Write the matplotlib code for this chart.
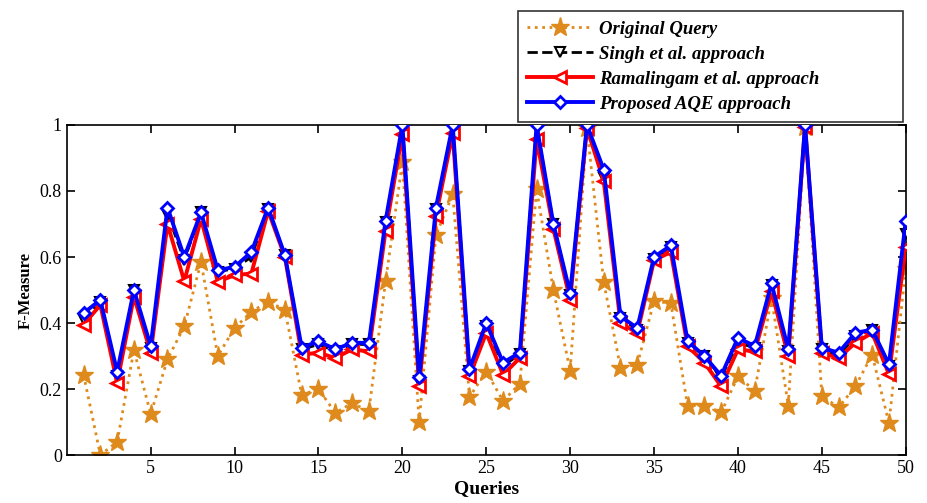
import matplotlib
matplotlib.use("Agg")
import matplotlib.pyplot as plt
import numpy as np

queries = list(range(1, 51))

original_query = [0.243, 0.0, 0.04, 0.318, 0.124, 0.29, 0.39, 0.585, 0.30, 0.385,
                  0.434, 0.465, 0.44, 0.182, 0.20, 0.128, 0.157, 0.133, 0.527, 0.887,
                  0.10, 0.666, 0.79, 0.176, 0.253, 0.164, 0.216, 0.805, 0.50, 0.255,
                  0.99, 0.524, 0.265, 0.274, 0.466, 0.46, 0.149, 0.15, 0.129, 0.238,
                  0.195, 0.475, 0.15, 0.995, 0.179, 0.144, 0.208, 0.304, 0.097, 0.565]

singh = [0.41, 0.465, 0.24, 0.50, 0.325, 0.73, 0.59, 0.735, 0.555, 0.565,
         0.60, 0.745, 0.605, 0.32, 0.335, 0.315, 0.335, 0.335, 0.705, 1.0,
         0.225, 0.745, 1.0, 0.255, 0.39, 0.27, 0.305, 1.0, 0.70, 0.485,
         1.0, 0.84, 0.415, 0.38, 0.595, 0.63, 0.34, 0.30, 0.235, 0.34,
         0.325, 0.515, 0.315, 1.0, 0.32, 0.30, 0.36, 0.38, 0.27, 0.67]

ramalingam = [0.395, 0.455, 0.218, 0.48, 0.31, 0.70, 0.527, 0.715, 0.525, 0.545,
              0.55, 0.74, 0.60, 0.304, 0.31, 0.294, 0.32, 0.314, 0.68, 0.973,
              0.208, 0.725, 0.975, 0.238, 0.37, 0.243, 0.294, 0.957, 0.685, 0.47,
              0.99, 0.83, 0.40, 0.37, 0.59, 0.615, 0.33, 0.28, 0.208, 0.32,
              0.314, 0.496, 0.30, 0.995, 0.31, 0.294, 0.34, 0.37, 0.245, 0.63]

proposed = [0.43, 0.47, 0.252, 0.50, 0.33, 0.75, 0.60, 0.735, 0.56, 0.57,
            0.615, 0.75, 0.605, 0.325, 0.345, 0.32, 0.34, 0.34, 0.71, 1.0,
            0.235, 0.75, 1.0, 0.26, 0.40, 0.28, 0.31, 1.0, 0.70, 0.49,
            1.0, 0.865, 0.42, 0.385, 0.60, 0.635, 0.345, 0.30, 0.24, 0.355,
            0.33, 0.52, 0.32, 1.0, 0.325, 0.31, 0.37, 0.38, 0.275, 0.71]

xticks = [5, 10, 15, 20, 25, 30, 35, 40, 45, 50]
yticks = [0, 0.2, 0.4, 0.6, 0.8, 1]
ytick_labels = ["0", "0.2", "0.4", "0.6", "0.8", "1"]

plt.rcParams['font.family'] = ['Liberation Serif', 'DejaVu Serif']

fig = plt.figure(figsize=(9.28, 5.03), dpi=100)
ax = fig.add_axes([0.072, 0.0954, 0.904, 0.6561])

orange = '#DE8A1C'
ax.plot(queries, original_query, linestyle=':', color=orange, linewidth=2.0,
        marker='*', markersize=14, markerfacecolor=orange, markeredgecolor=orange,
        label='Original Query', zorder=2)
ax.plot(queries, singh, linestyle='--', color='black', linewidth=2.0,
        marker='v', markersize=7, markerfacecolor='white', markeredgecolor='black',
        markeredgewidth=1.5, label='Singh et al. approach', zorder=3)
ax.plot(queries, ramalingam, linestyle='-', color='#FF0000', linewidth=2.8,
        marker='<', markersize=9, markerfacecolor='white', markeredgecolor='#FF0000',
        markeredgewidth=2.0, label='Ramalingam et al. approach', zorder=4)
ax.plot(queries, proposed, linestyle='-', color='#0000FF', linewidth=2.8,
        marker='D', markersize=6.5, markerfacecolor='white', markeredgecolor='#0000FF',
        markeredgewidth=2.0, label='Proposed AQE approach', zorder=5)

ax.set_xlim(0, 50)
ax.set_ylim(0, 1)
ax.set_xticks(xticks)
ax.set_yticks(yticks)
ax.set_yticklabels(ytick_labels)
ax.tick_params(direction='in', top=True, right=True, labelsize=13, length=6, width=1.2)
for s in ax.spines.values():
    s.set_linewidth(1.2)

ax.set_xlabel('Queries', fontsize=14, fontweight='bold', labelpad=2)
ax.set_ylabel('F-Measure', fontsize=12, fontweight='bold', labelpad=4)

leg = fig.legend(loc='upper left', bbox_to_anchor=(0.558, 0.771, 0.415, 0.207),
                 mode='expand', ncol=1,
                 prop={'family': 'Liberation Serif', 'style': 'italic', 'weight': 'bold', 'size': 13.5},
                 frameon=True, fancybox=False, edgecolor='black', handlelength=3.5,
                 borderpad=0.5, labelspacing=0.42, handletextpad=0.35, borderaxespad=0)
leg.get_frame().set_linewidth(1.2)

fig.savefig('out.png', dpi=100)
